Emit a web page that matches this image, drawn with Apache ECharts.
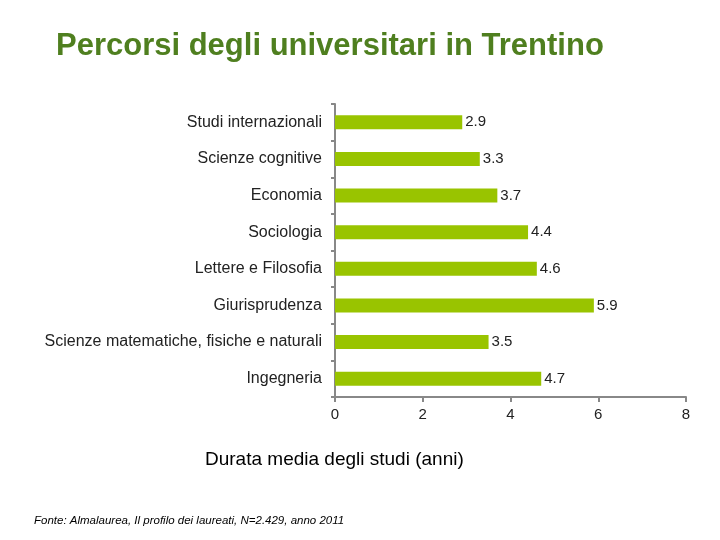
<!DOCTYPE html>
<html><head><meta charset="utf-8">
<script src="https://cdn.jsdelivr.net/npm/echarts@6/dist/echarts.min.js"></script>
<style>html,body{margin:0;padding:0;background:#fff}#c{width:720px;height:540px}</style>
</head><body><div id="c"></div>
<script>
const categories = ["Studi internazionali","Scienze cognitive","Economia","Sociologia","Lettere e Filosofia","Giurisprudenza","Scienze matematiche, fisiche e naturali","Ingegneria"];
const values = [2.9, 3.3, 3.7, 4.4, 4.6, 5.9, 3.5, 4.7];
const xTicks = [0, 2, 4, 6, 8];
const chart = echarts.init(document.getElementById('c'));
const F = "'Liberation Sans', Arial, sans-serif";
chart.setOption({
  animation: false,
  title: [
    {text: "Percorsi degli universitari in Trentino", left: 51, top: 26,
     textStyle: {fontFamily: F, fontSize: 31, fontWeight: 'bold', color: '#4f7f1f'}},
    {text: "Durata media degli studi (anni)", left: 200, top: 445,
     textStyle: {fontFamily: F, fontSize: 19, fontWeight: 'normal', color: '#000'}},
    {text: "Fonte: Almalaurea, Il profilo dei laureati, N=2.429, anno 2011", left: 29, top: 510,
     textStyle: {fontFamily: F, fontSize: 11.5, fontStyle: 'italic', fontWeight: 'normal', color: '#000'}}
  ],
  grid: {left: 335, right: 34, top: 104, bottom: 143, containLabel: false},
  xAxis: {
    type: 'value', min: 0, max: 8, interval: 2,
    splitLine: {show: false},
    axisLine: {show: true, lineStyle: {color: '#888', width: 2}},
    axisTick: {show: true, length: 5, lineStyle: {color: '#888', width: 2}},
    axisLabel: {fontFamily: F, fontSize: 15, color: '#222', margin: 10,
      formatter: v => xTicks.includes(v) ? String(v) : ''}
  },
  yAxis: {
    type: 'category', data: categories, inverse: true,
    axisLine: {show: true, lineStyle: {color: '#888', width: 2}},
    axisTick: {show: true, length: 4, lineStyle: {color: '#888', width: 2}},
    axisLabel: {fontFamily: F, fontSize: 16, color: '#222', margin: 13}
  },
  series: [{
    type: 'bar', data: values, barWidth: 14,
    itemStyle: {color: '#99c400'},
    label: {show: true, position: 'right', distance: 3, fontFamily: F, fontSize: 15, color: '#222',
      formatter: p => p.value.toFixed(1)}
  }]
});
</script></body></html>
